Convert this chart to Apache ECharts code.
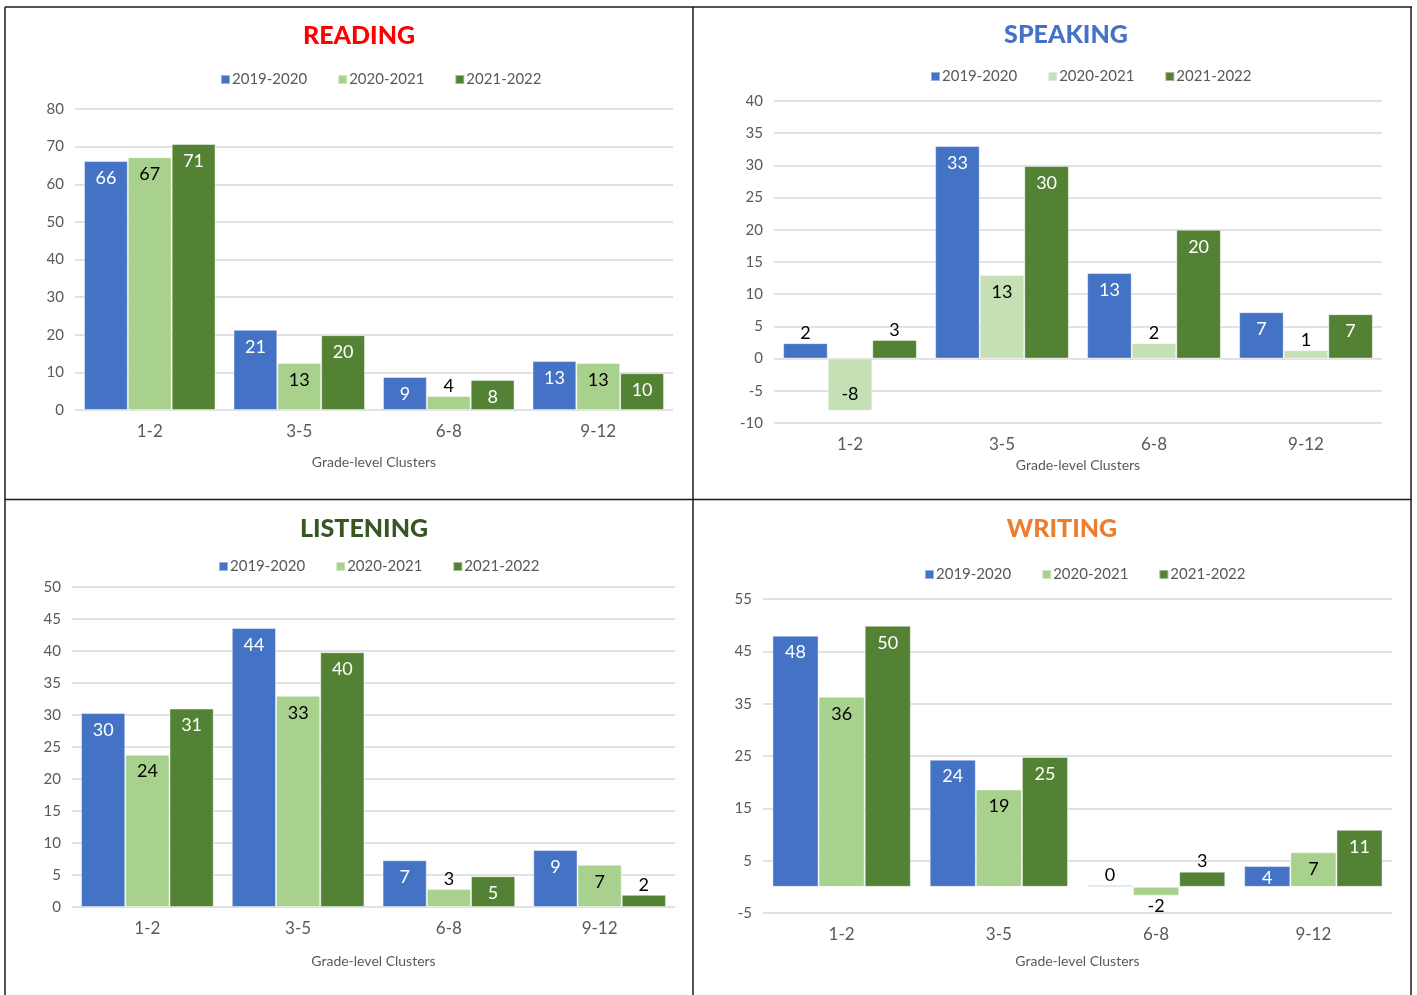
<!DOCTYPE html>
<html lang="en">
<head>
    <meta charset="UTF-8">
    <title>Grade-level Clusters</title>
    <style>
        html, body { margin: 0; padding: 0; background: #fff; }
        #main { width: 1417px; height: 995px; }
    </style>
</head>
<body>
    <div id="main"></div>
    <script src="https://cdn.jsdelivr.net/npm/echarts@6/dist/echarts.min.js"></script>
    <script>
        // categories and series names shared by all four panels
        var categories = ['1-2', '3-5', '6-8', '9-12'];
        var years = ['2019-2020', '2020-2021', '2021-2022'];

        // values, one array per year
        var reading2019 = [66.2, 21.3, 8.8, 13.0];
        var reading2020 = [67.2, 12.5, 3.7, 12.5];
        var reading2021 = [70.7, 19.9, 8.0, 9.8];

        var speaking2019 = [2.4, 33.0, 13.3, 7.2];
        var speaking2020 = [-8.1, 13.0, 2.4, 1.3];
        var speaking2021 = [2.9, 29.9, 20.0, 6.9];

        var listening2019 = [30.3, 43.6, 7.3, 8.9];
        var listening2020 = [23.8, 33.0, 2.8, 6.6];
        var listening2021 = [31.0, 39.8, 4.8, 1.9];

        var writing2019 = [48.0, 24.3, 0.3, 4.0];
        var writing2020 = [36.3, 18.6, -1.7, 6.6];
        var writing2021 = [49.9, 24.8, 2.9, 10.9];

        var BLUE = '#4472C4', LIGHT = '#A9D18E', PALE = '#C5E0B4', DARK = '#548235';
        var FONT = 'Lato';

        var myecharts = echarts.init(document.getElementById('main'));

        // panel layout: grid box, axis range, title / legend spots
        var panels = [
            { title: 'READING', color: '#FF0000', tx: 354, ty: 18, lx: 215, ly: 67,
              grid: { left: 75, top: 109, width: 598, height: 301 }, min: 0, max: 80, step: 10, nameGap: 45,
              colors: [BLUE, LIGHT, DARK], data: [reading2019, reading2020, reading2021] },
            { title: 'SPEAKING', color: '#4472C4', tx: 1061, ty: 17, lx: 925, ly: 64,
              grid: { left: 774, top: 101, width: 608, height: 322 }, min: -10, max: 40, step: 5, nameGap: 35,
              colors: [BLUE, PALE, DARK], data: [speaking2019, speaking2020, speaking2021] },
            { title: 'LISTENING', color: '#375623', tx: 359, ty: 511, lx: 213, ly: 554,
              grid: { left: 72, top: 587, width: 603, height: 320 }, min: 0, max: 50, step: 5, nameGap: 47,
              colors: [BLUE, LIGHT, DARK], data: [listening2019, listening2020, listening2021] },
            { title: 'WRITING', color: '#ED7D31', tx: 1057, ty: 511, lx: 919, ly: 562,
              grid: { left: 763, top: 599, width: 629, height: 314 }, min: -5, max: 55, step: 10, nameGap: 41,
              colors: [BLUE, LIGHT, DARK], data: [writing2019, writing2020, writing2021] }
        ];

        var option = {
            animation: false,
            textStyle: { fontFamily: FONT },
            title: [], legend: [], grid: [], xAxis: [], yAxis: [], series: [],
            graphic: []
        };

        panels.forEach(function (p, i) {
            option.title.push({
                text: p.title, left: p.tx, top: p.ty, textAlign: 'center',
                textStyle: { color: p.color, fontSize: 25, fontWeight: 900, fontFamily: FONT }
            });
            option.legend.push({
                left: p.lx, top: p.ly, itemWidth: 9, itemHeight: 9, itemGap: 30, icon: 'rect',
                textStyle: { color: '#595959', fontSize: 15, fontFamily: FONT, padding: [0, 0, 0, -3] },
                data: years.map(function (y, k) { return { name: y, itemStyle: { color: p.colors[k] } }; })
            });
            option.grid.push(p.grid);
            option.xAxis.push({
                type: 'category', gridIndex: i, data: categories,
                name: 'Grade-level Clusters', nameLocation: 'middle', nameGap: p.nameGap,
                nameTextStyle: { color: '#595959', fontSize: 14, fontFamily: FONT },
                axisLine: { show: false, onZero: false }, axisTick: { show: false },
                axisLabel: { color: '#595959', fontSize: 17, margin: 13, fontFamily: FONT }
            });
            option.yAxis.push({
                type: 'value', gridIndex: i, min: p.min, max: p.max, interval: p.step,
                axisLine: { show: false }, axisTick: { show: false },
                axisLabel: { color: '#595959', fontSize: 15, margin: 11, fontFamily: FONT },
                splitLine: { lineStyle: { color: '#D9D9D9', width: 1.5 } }
            });

            var ppu = p.grid.height / (p.max - p.min);
            p.data.forEach(function (vals, k) {
                var darkBar = k !== 1;
                option.series.push({
                    type: 'bar', name: years[k], xAxisIndex: i, yAxisIndex: i,
                    barGap: 0, barCategoryGap: '12%',
                    itemStyle: { color: p.colors[k], borderColor: 'rgba(255,255,255,0.45)', borderWidth: 1 },
                    data: vals.map(function (v) {
                        var px = Math.abs(v) * ppu;
                        var small = px < 19.5;
                        var pos = small ? (v < 0 ? 'bottom' : 'top') : (v < 0 ? 'insideBottom' : 'insideTop');
                        // short bars: pull the label up so it stays on the bar
                        var dist = small ? 1 : Math.max(1, Math.min(8, px - 18));
                        return {
                            value: v,
                            label: {
                                show: true, position: pos, distance: dist,
                                fontSize: 18, fontFamily: FONT,
                                color: (!small && darkBar) ? '#fff' : '#000',
                                formatter: function (a) { return Math.round(a.value); }
                            }
                        };
                    })
                });
            });
        });

        // panel borders
        var lines = [
            [5, 7, 1412, 7], [5, 7, 5, 995], [1411, 7, 1411, 995],
            [693, 7, 693, 995], [5, 499.5, 1412, 499.5]
        ];
        lines.forEach(function (l) {
            option.graphic.push({
                type: 'line', shape: { x1: l[0], y1: l[1], x2: l[2], y2: l[3] },
                style: { stroke: '#1a1a1a', lineWidth: 1.5 }, silent: true
            });
        });

        myecharts.setOption(option);
    </script>
</body>
</html>
